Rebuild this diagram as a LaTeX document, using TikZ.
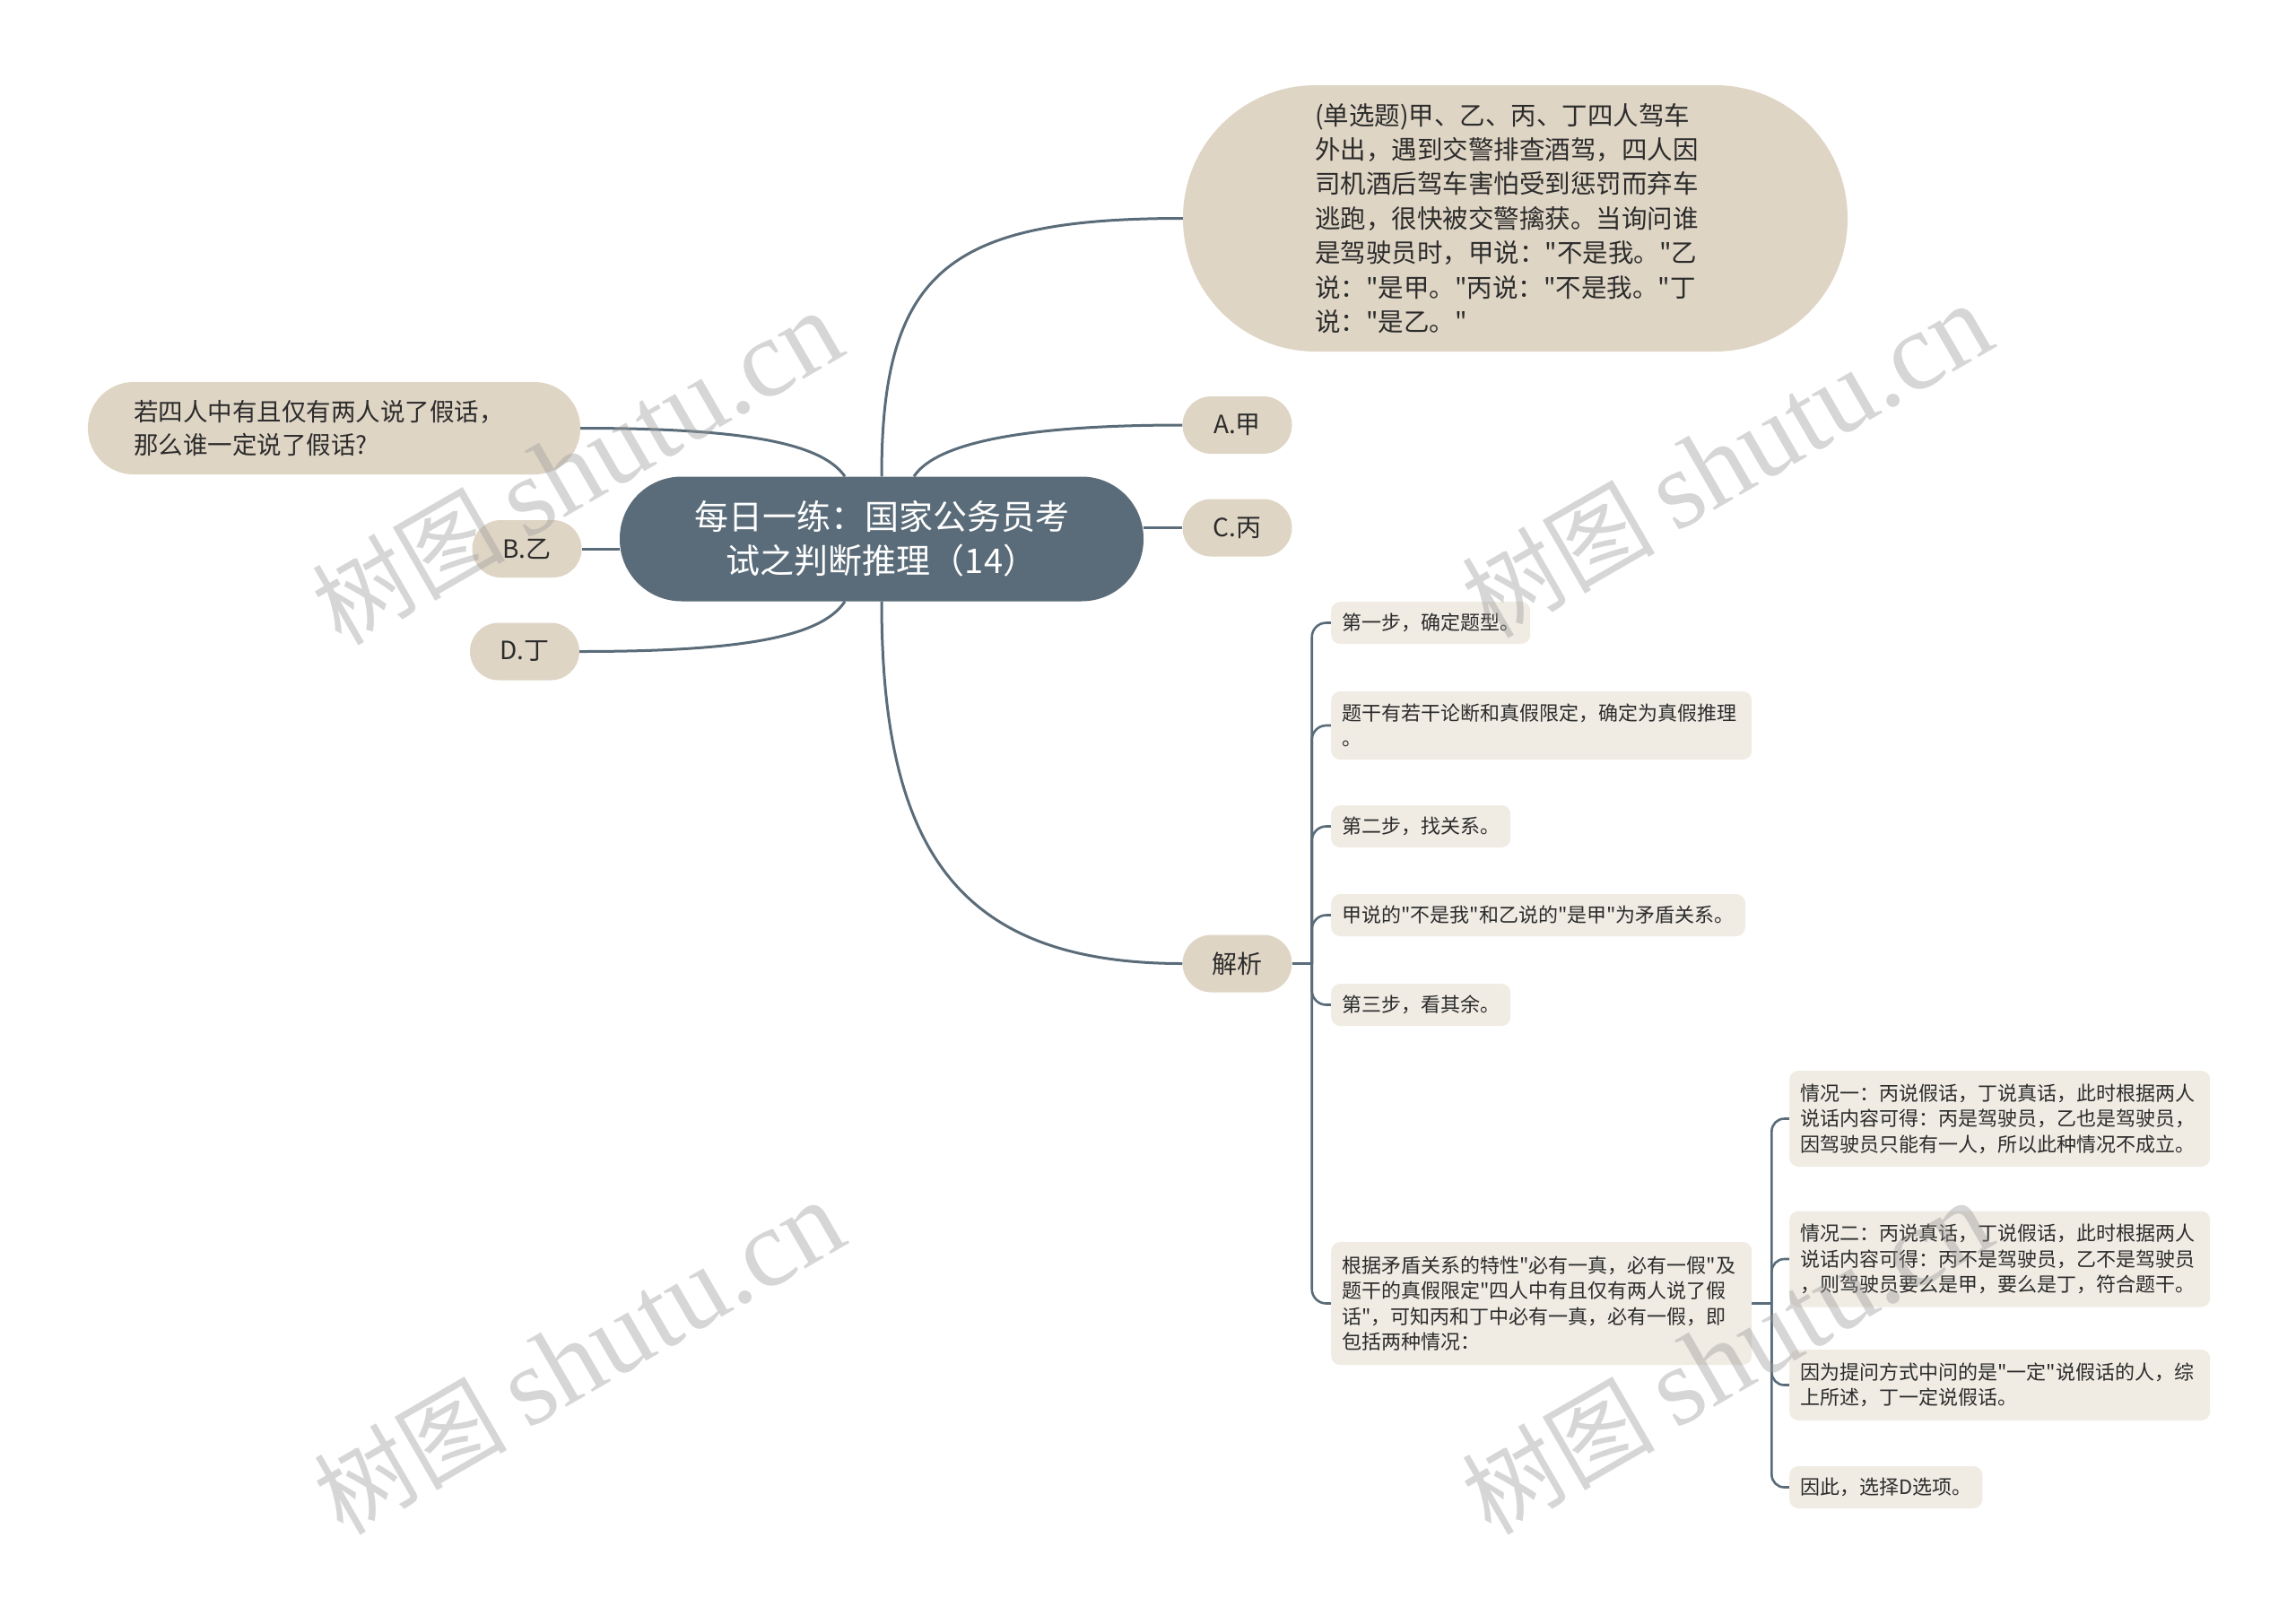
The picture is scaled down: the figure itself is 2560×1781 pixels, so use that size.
\documentclass[tikz,border=0pt]{standalone}
\usepackage{fontspec}
\setmainfont{Noto Sans CJK SC}[Ligatures=TeXOff]
\newfontfamily\wmlat{Liberation Serif}
\definecolor{slate}{HTML}{5A6C79}
\definecolor{beige}{HTML}{DFD5C5}
\definecolor{paleb}{HTML}{F0ECE4}
\definecolor{ink}{HTML}{2C2C2C}
\pgfdeclarelayer{paper}
\pgfdeclarelayer{bg}
\pgfsetlayers{paper,bg,main}
\tikzset{
  rootbox/.style={fill=slate, text=white, align=center, inner sep=0pt,
    minimum width=584pt, minimum height=139pt, rounded corners=69pt,
    font=\fontsize{38}{49}\selectfont},
  bigpill/.style={fill=beige, text=ink, align=left, inner sep=0pt, text width=447pt,
    font=\fontsize{28.5}{38.4}\selectfont},
  optpill/.style={fill=beige, text=ink, inner sep=0pt, minimum width=122pt,
    minimum height=64pt, rounded corners=32pt, font=\fontsize{28}{34}\selectfont},
  leaf/.style={fill=paleb, text=ink, align=left, anchor=west, inner xsep=12pt,
    inner ysep=0pt, minimum height=47pt, rounded corners=10pt,
    font=\fontsize{22}{28.4}\selectfont},
  wide/.style={text width=445pt},
  conn/.style={draw=slate, line width=3pt},
  subconn/.style={draw=slate, line width=2.6pt},
  wmark/.style={text=gray!80, opacity=0.4, rotate=30, inner sep=0pt},
}
\begin{document}
\begin{tikzpicture}[x=1pt, y=-1pt]
\useasboundingbox (0,0) rectangle (2560,1781);
\begin{pgfonlayer}{paper}
  \fill[white] (0,0) rectangle (2560,1781);
\end{pgfonlayer}

% nodes
\node[rootbox] (root) at (983,601) {每日一练：国家公务员考\\试之判断推理（14）};
\node[bigpill, minimum width=741pt, minimum height=297pt, rounded corners=148pt] (q) at (1689.5,243.5)
  {(单选题)甲、乙、丙、丁四人驾车\\外出，遇到交警排查酒驾，四人因\\司机酒后驾车害怕受到惩罚而弃车\\逃跑，很快被交警擒获。当询问谁\\是驾驶员时，甲说："不是我。"乙\\说："是甲。"丙说："不是我。"丁\\说："是乙。"};
\node[bigpill, minimum width=549pt, minimum height=103pt, rounded corners=51pt,
  font=\fontsize{27.5}{37.5}\selectfont] (lq) at (372.5,477.5)
  {若四人中有且仅有两人说了假话，\\那么谁一定说了假话?};
\node[optpill] (a) at (1379.5,474) {A.甲};
\node[optpill] (c) at (1379.5,588.5) {C.丙};
\node[optpill] (b) at (587.5,612) {B.乙};
\node[optpill] (d) at (585,726.5) {D.丁};
\node[optpill] (jx) at (1379.5,1074.5) {解析};

\node[leaf] (s1) at (1484,694.5) {第一步，确定题型。};
\node[leaf, wide, minimum height=76pt] (s2) at (1484,809) {题干有若干论断和真假限定，确定为真假推理\\。};
\node[leaf] (s3) at (1484,921.5) {第二步，找关系。};
\node[leaf] (s4) at (1484,1020.5) {甲说的"不是我"和乙说的"是甲"为矛盾关系。};
\node[leaf] (s5) at (1484,1120.5) {第三步，看其余。};
\node[leaf, wide, minimum height=137pt] (s6) at (1484,1453.5)
  {根据矛盾关系的特性"必有一真，必有一假"及\\题干的真假限定"四人中有且仅有两人说了假\\话"，可知丙和丁中必有一真，必有一假，即\\包括两种情况：};

\node[leaf, wide, minimum height=107pt] (t1) at (1995,1247.5)
  {情况一：丙说假话，丁说真话，此时根据两人\\说话内容可得：丙是驾驶员，乙也是驾驶员，\\因驾驶员只能有一人，所以此种情况不成立。};
\node[leaf, wide, minimum height=107pt] (t2) at (1995,1404)
  {情况二：丙说真话，丁说假话，此时根据两人\\说话内容可得：丙不是驾驶员，乙不是驾驶员\\，则驾驶员要么是甲，要么是丁，符合题干。};
\node[leaf, wide, minimum height=79pt] (t3) at (1995,1544.5)
  {因为提问方式中问的是"一定"说假话的人，综\\上所述，丁一定说假话。};
\node[leaf] (t4) at (1995,1658.5) {因此，选择D选项。};

% connectors
\begin{pgfonlayer}{bg}
  \draw[conn] (root.north) .. controls (983,300) and (1060,243.5) .. (q.west);
  \draw[conn] ([xshift=36pt]root.north) .. controls (1045,492) and (1150,474) .. (a.west);
  \draw[conn] (c.west) -- (c.west -| root.east);
  \draw[conn] (root.south) .. controls (983,950) and (1070,1074.5) .. (jx.west);
  \draw[conn] ([xshift=-41pt]root.north) .. controls (915,492) and (820,477.5) .. (lq.east);
  \draw[conn] (b.east) -- (b.east -| root.west);
  \draw[conn] ([xshift=-41pt]root.south) .. controls (915,712) and (820,726.5) .. (d.east);

  \draw[subconn] (jx.east) -- ++(22,0) coordinate (j1);
  \foreach \s in {s1,s2,s3,s4,s5,s6}
    \draw[subconn, rounded corners=16pt] (j1) |- (\s.west);
  \draw[subconn] (s6.east) -- ++(22,0) coordinate (j2);
  \foreach \t in {t1,t2,t3,t4}
    \draw[subconn, rounded corners=14pt] (j2) |- (\t.west);
\end{pgfonlayer}

% watermarks
\foreach \p/\n in {{(643,522)}/w1,{(1925,514)}/w2,{(645,1514)}/w3,{(1925,1514)}/w4}
  \node[wmark] (\n) at \p {{\fontsize{108}{108}\selectfont 树图}\hspace{22pt}{\wmlat\fontsize{124}{124}\selectfont shutu.cn}};
\end{tikzpicture}
\end{document}
